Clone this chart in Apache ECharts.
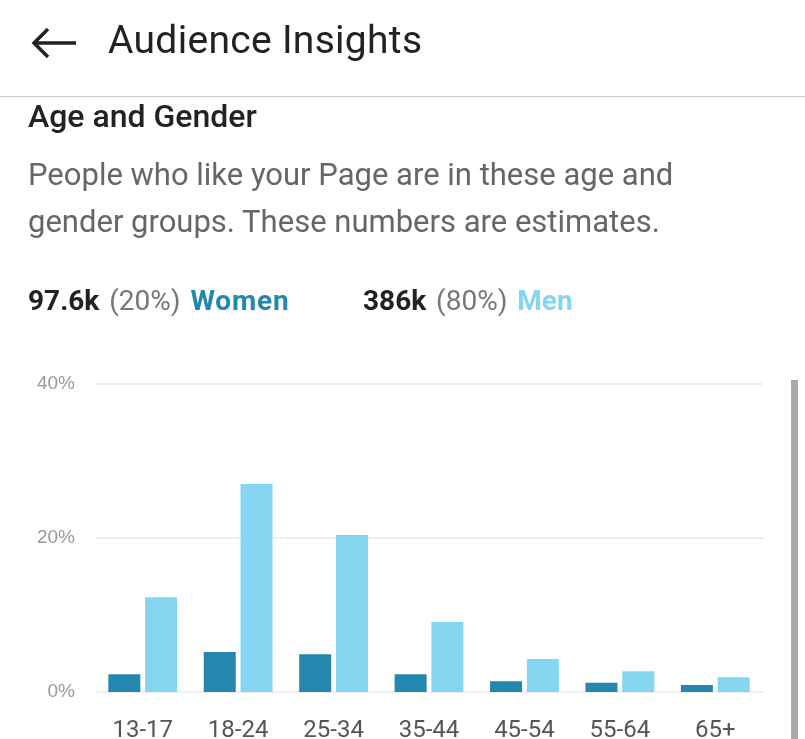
<!DOCTYPE html>
<html><head><meta charset="utf-8">
<script src="https://cdn.jsdelivr.net/npm/echarts@6/dist/echarts.min.js"></script>
<style>
body{margin:0;width:805px;height:739px;overflow:hidden;background:#fff;font-family:Roboto,"Noto Sans",sans-serif;position:relative}
.t{position:absolute;white-space:nowrap}
#c{position:absolute;left:0;top:0;width:805px;height:739px}
</style></head><body>
<div id="c"></div>
<svg class="t" style="left:30px;top:26px" width="48" height="34" viewBox="0 0 48 34"><path d="M46 17H4M18 3L4 17l14 14" stroke="#222" stroke-width="3.5" fill="none"/></svg>
<div class="t" style="left:108px;top:17px;font-size:39px;letter-spacing:0.3px;color:#222">Audience Insights</div>
<div class="t" style="left:0;top:96px;width:805px;height:1px;background:#ccc"></div>
<div class="t" style="left:28px;top:97px;font-size:32px;font-weight:500;color:#222">Age and Gender</div>
<div class="t" style="left:28px;top:151px;font-size:31px;color:#666;line-height:47px">People who like your Page are in these age and<br>gender groups. These numbers are estimates.</div>
<div class="t" style="left:28px;top:284px;font-size:28px;color:#777;word-spacing:3px"><b style="color:#222">97.6k</b> (20%) <b style="color:#2387ae;letter-spacing:0.8px">Women</b></div>
<div class="t" style="left:363px;top:284px;font-size:28px;color:#777;word-spacing:3px"><b style="color:#222">386k</b> (80%) <b style="color:#86d6f1">Men</b></div>
<div class="t" style="left:791px;top:380px;width:7px;height:359px;background:#aaa"></div>
<script>
const categories=['13-17','18-24','25-34','35-44','45-54','55-64','65+'];
const women=[2.3,5.2,4.9,2.3,1.4,1.2,0.9];
const men=[12.3,27.0,20.4,9.1,4.3,2.7,1.9];
const yTicks=[0,20,40];
const ch=echarts.init(document.getElementById('c'));
ch.setOption({
 animation:false,
 grid:{left:95,right:42,top:384,bottom:47,outerBoundsMode:'none',containLabel:false},
 xAxis:{type:'category',data:categories,axisLine:{show:false},axisTick:{show:false},
  axisLabel:{color:'#555',fontSize:24,margin:27,fontFamily:'Roboto'}},
 yAxis:{type:'value',min:0,max:40,interval:20,
  axisLabel:{color:'#999',fontSize:19,margin:20,formatter:v=>yTicks.includes(v)?v+'%':''},
  splitLine:{lineStyle:{color:'#e8e8e8',width:1.5}}},
 series:[
  {name:'Women',type:'bar',data:women,barWidth:32,barGap:'15%',itemStyle:{color:'#2387ae'}},
  {name:'Men',type:'bar',data:men,barWidth:32,itemStyle:{color:'#86d6f1'}}
 ]
});
</script></body></html>
